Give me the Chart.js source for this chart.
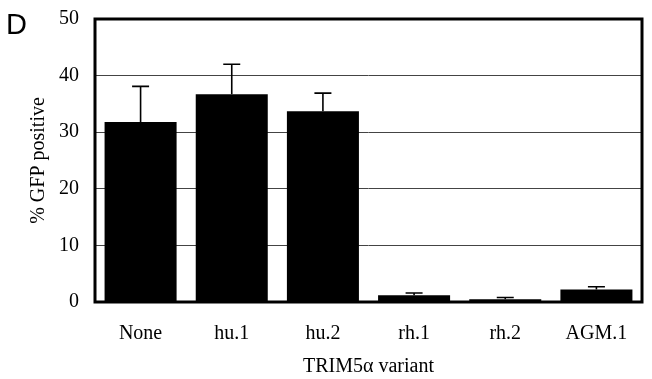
<!DOCTYPE html>
<html>
<head>
<meta charset="utf-8">
<script src="https://cdn.jsdelivr.net/npm/chart.js@4"></script>
<style>
  html, body { margin: 0; padding: 0; background: #fff; }
  #wrap { position: relative; width: 652px; height: 379px; }
  #panel { position: absolute; left: 6px; top: 7px; font: 29px 'Liberation Sans', Arial, sans-serif; color: #000; line-height: 34px; }
</style>
</head>
<body>
<div id="wrap">
  <canvas id="gfpChart" width="652" height="379"></canvas>
  <div id="panel">D</div>
</div>
<script>
(function () {
  'use strict';

  var variants = ['None', 'hu.1', 'hu.2', 'rh.1', 'rh.2', 'AGM.1'];
  var gfpMeans = [31.8, 36.7, 33.7, 1.2, 0.5, 2.2];
  var gfpErrors = [6.3, 5.3, 3.2, 0.4, 0.3, 0.5];
  var yTicks = [0, 10, 20, 30, 40, 50];

  var serif = "'Liberation Serif', 'Times New Roman', serif";

  // thick frame round the plot area
  var framePlugin = {
    id: 'frame',
    afterDraw: function (chart) {
      var a = chart.chartArea, c = chart.ctx;
      c.save();
      c.strokeStyle = '#000';
      c.lineWidth = 3;
      c.strokeRect(a.left, a.top, a.right - a.left, a.bottom - a.top);
      c.restore();
    }
  };

  // upward error bars
  var errorPlugin = {
    id: 'errorBars',
    afterDatasetsDraw: function (chart) {
      var c = chart.ctx, y = chart.scales.y;
      var meta = chart.getDatasetMeta(0);
      c.save();
      c.strokeStyle = '#000';
      c.lineWidth = 1.6;
      meta.data.forEach(function (bar, i) {
        var top = y.getPixelForValue(gfpMeans[i] + gfpErrors[i]);
        c.beginPath();
        c.moveTo(bar.x, bar.y);
        c.lineTo(bar.x, top);
        c.moveTo(bar.x - 8.5, top);
        c.lineTo(bar.x + 8.5, top);
        c.stroke();
      });
      c.restore();
    }
  };

  new Chart(document.getElementById('gfpChart').getContext('2d'), {
    type: 'bar',
    data: {
      labels: variants,
      datasets: [{
        data: gfpMeans,
        backgroundColor: '#000',
        borderWidth: 0,
        categoryPercentage: 1,
        barPercentage: 0.79
      }]
    },
    options: {
      responsive: false,
      animation: false,
      layout: { padding: { top: 19, right: 10, left: 0, bottom: 0 } },
      plugins: { legend: { display: false }, tooltip: { enabled: false } },
      scales: {
        x: {
          grid: { display: false, drawTicks: false },
          border: { display: false },
          ticks: { color: '#000', font: { family: serif, size: 20 }, padding: 20, maxRotation: 0 },
          title: { display: true, text: 'TRIM5\u03b1 variant', color: '#000', font: { family: serif, size: 20 }, padding: { top: 0, bottom: 0 } },
          afterFit: function (s) { s.height = 77; s.paddingLeft = 0; s.paddingRight = 0; }
        },
        y: {
          min: 0,
          max: 50,
          afterBuildTicks: function (s) { s.ticks = yTicks.map(function (v) { return { value: v }; }); },
          grid: { color: '#444', lineWidth: 1, drawTicks: false },
          border: { display: false },
          ticks: { color: '#000', font: { family: serif, size: 20 }, padding: 16 },
          title: { display: true, text: '% GFP positive', color: '#000', font: { family: serif, size: 20 }, padding: { top: 27, bottom: 0 } },
          afterFit: function (s) { s.width = 95; s.paddingTop = 0; s.paddingBottom = 0; }
        }
      }
    },
    plugins: [errorPlugin, framePlugin]
  });
})();
</script>
</body>
</html>
